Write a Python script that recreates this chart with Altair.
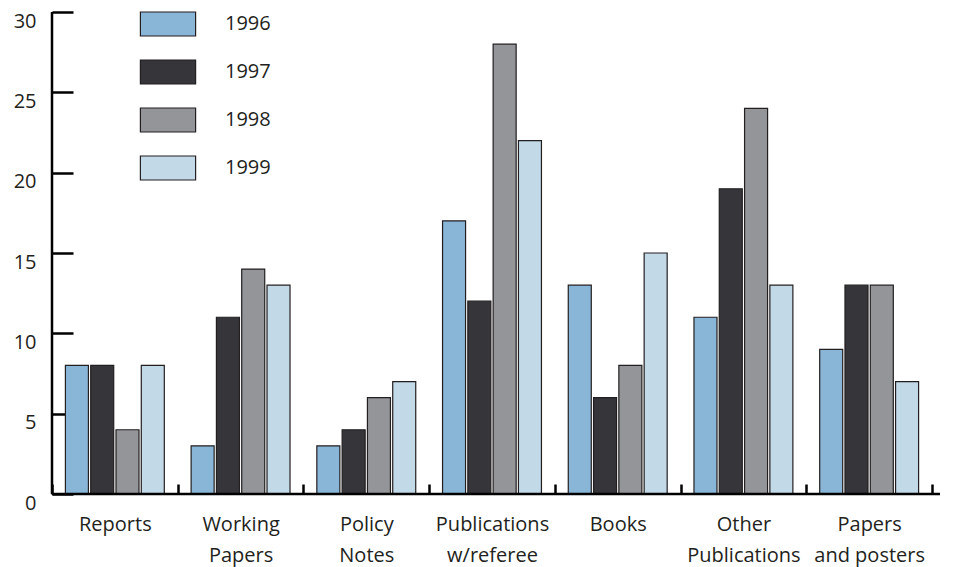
import altair as alt
import pandas as pd

categories = ["Reports", "Working\nPapers", "Policy\nNotes", "Publications\nw/referee",
              "Books", "Other\nPublications", "Papers\nand posters"]
years = ["1996", "1997", "1998", "1999"]
v1996 = [8, 3, 3, 17, 13, 11, 9]
v1997 = [8, 11, 4, 12, 6, 19, 13]
v1998 = [4, 14, 6, 28, 8, 24, 13]
v1999 = [8, 13, 7, 22, 15, 13, 7]
colors = ["#89b5d6", "#35353a", "#939598", "#c2d9e8"]
y_ticks = [0, 5, 10, 15, 20, 25, 30]

rows = []
for y, vals in zip(years, [v1996, v1997, v1998, v1999]):
    for c, v in zip(categories, vals):
        rows.append({"category": c, "year": y, "value": v})
df = pd.DataFrame(rows)

FONT = "Open Sans"
TXT = "#231f20"

yaxis = alt.Axis(title=None, orient="left", offset=-21, tickSize=21, tickWidth=2.5,
                 tickColor="#000", domain=False, grid=False, values=y_ticks,
                 labelPadding=16, labelBaseline="middle", labelOffset=9,
                 labelFontSize=20, labelFont=FONT, labelColor=TXT)
yscale = alt.Scale(domain=[0, 30], nice=False)

bars = alt.Chart(df).mark_bar(stroke=TXT, strokeWidth=1.2).encode(
    x=alt.X("category:N", sort=categories,
            scale=alt.Scale(paddingInner=0, paddingOuter=0),
            axis=alt.Axis(title=None, orient="bottom", offset=-10, tickSize=10, tickWidth=2.5,
                          tickColor="#000", tickBand="extent", domain=False, labelAngle=0,
                          labelPadding=20, labelBaseline="top", labelLineHeight=31,
                          labelFontSize=20, labelFont=FONT, labelColor=TXT,
                          labelExpr="split(datum.label, '\\n')")),
    xOffset=alt.XOffset("year:N", sort=years,
                        scale=alt.Scale(paddingInner=0.09, paddingOuter=0.53)),
    y=alt.Y("value:Q", scale=yscale, axis=yaxis),
    color=alt.Color("year:N", sort=years, scale=alt.Scale(domain=years, range=colors),
                    legend=alt.Legend(title=None, orient="none", legendX=91, legendY=-13,
                                      symbolType="M-1.15,-0.5H1.15V0.5H-1.15Z", symbolSize=2304,
                                      symbolStrokeColor=TXT, symbolStrokeWidth=1.2,
                                      rowPadding=8, labelOffset=32, labelFontSize=20,
                                      labelFont=FONT, labelColor=TXT, padding=0)),
)

yline = alt.Chart(pd.DataFrame({"value": [0], "value2": [30]})).mark_rule(
    color="#000", strokeWidth=2.5).encode(
    x=alt.value(0), y=alt.Y("value:Q", scale=yscale, axis=yaxis), y2="value2:Q")

xline = alt.Chart(pd.DataFrame({"value": [0]})).mark_rule(
    color="#000", strokeWidth=2.5).encode(
    x=alt.value(0), x2=alt.value(888), y=alt.Y("value:Q", scale=yscale, axis=yaxis))

chart = alt.layer(bars, yline, xline).properties(
    width=880, height=482,
    autosize=alt.AutoSizeParams(type="none"),
    padding={"left": 44, "top": 4, "right": 22, "bottom": 75},
).configure_view(stroke=None)

chart.save("out.html", embed_options={"renderer": "svg", "actions": False})
